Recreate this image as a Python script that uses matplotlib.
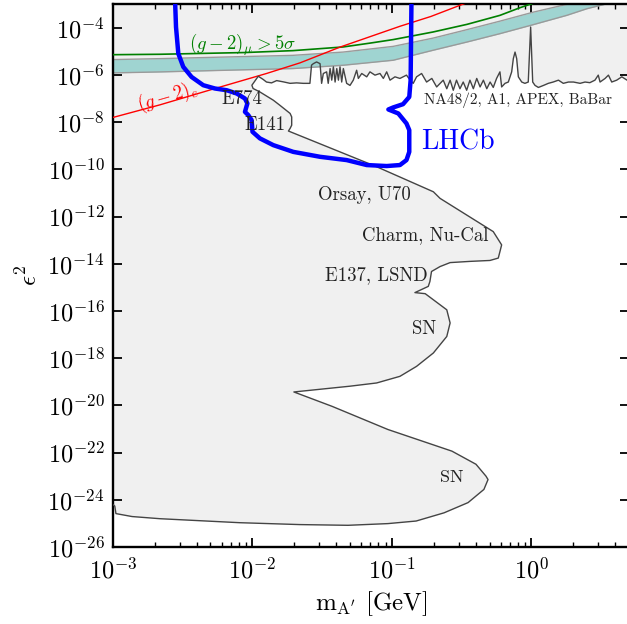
import numpy as np
import matplotlib
matplotlib.use('Agg')
import matplotlib.pyplot as plt
from matplotlib.ticker import NullLocator, LogLocator

plt.rcParams['font.family'] = 'cmr10'
plt.rcParams['mathtext.fontset'] = 'cm'
plt.rcParams['axes.formatter.use_mathtext'] = True

# beam dump / SN exclusion contour, bottom-left -> around -> top corner
dump_mass = [1.0e-3, 1.03e-3, 1.05e-3, 1.37e-3, 2.17e-3, 8.1e-3, 2.19e-2, 4.84e-2, 9.35e-2,
             0.149, 0.236, 0.351, 0.456, 0.488, 0.472, 0.40, 0.269, 9.35e-2, 3.72e-2, 1.98e-2,
             5.0e-2, 7.76e-2, 0.114, 0.150, 0.198, 0.247, 0.261, 0.247, 0.198, 0.173, 0.146,
             0.182, 0.187, 0.192, 0.221, 0.261, 0.362, 0.504, 0.578, 0.611, 0.532, 0.221, 0.198,
             7.76e-2, 1.81e-2, 1.86e-2, 1.91e-2, 1.91e-2, 1.86e-2, 1.57e-2, 1.41e-2, 1.13e-2,
             1.01e-2, 9.9e-3, 1.1e-2]
dump_eps2 = [6.3e-25, 5.4e-25, 2.6e-25, 1.95e-25, 1.58e-25, 1.07e-25, 8.9e-26, 8.3e-26, 9.8e-26,
             1.26e-25, 2.8e-25, 7.6e-25, 2.75e-24, 7.2e-24, 1.0e-23, 3.2e-23, 1.15e-22, 9.5e-22,
             9.1e-21, 3.7e-20, 6.5e-20, 8.9e-20, 1.7e-19, 4.5e-19, 1.66e-18, 8.3e-18, 3.1e-17,
             1.12e-16, 2.95e-16, 5.4e-16, 6.0e-16, 1.1e-15, 1.78e-15, 4.7e-15, 7.6e-15, 1.12e-14,
             1.26e-14, 1.38e-14, 1.74e-14, 6.3e-14, 2.3e-13, 5.9e-12, 1.12e-11, 1.29e-10, 4.2e-9,
             5.4e-9, 7.4e-9, 1.66e-8, 2.34e-8, 5.2e-8, 8.5e-8, 1.9e-7, 2.66e-7, 3.66e-7, 8.8e-7]

# NA48/2, A1, APEX, BaBar upper limit
na48_mass = [1.19e-2, 1.26e-2, 1.37e-2, 1.49e-2, 1.66e-2, 1.86e-2, 2.07e-2, 2.31e-2, 2.58e-2,
             2.65e-2, 2.73e-2, 2.88e-2, 3.05e-2, 3.13e-2, 3.22e-2, 3.4e-2, 3.49e-2, 3.6e-2, 3.7e-2,
             3.8e-2, 3.91e-2, 4.02e-2, 4.13e-2, 4.24e-2, 4.36e-2, 4.48e-2, 4.73e-2, 5.0e-2, 5.28e-2,
             5.58e-2, 5.74e-2, 6.07e-2, 6.59e-2, 6.95e-2, 7.55e-2, 8.2e-2, 8.67e-2, 9.16e-2,
             9.68e-2, 0.105, 0.114, 0.127, 0.135, 0.142, 0.150, 0.163, 0.177, 0.193, 0.209, 0.233,
             0.247, 0.261, 0.275, 0.29, 0.307, 0.324, 0.343, 0.362, 0.383, 0.405, 0.428, 0.452,
             0.478, 0.505, 0.532, 0.562, 0.594, 0.611, 0.646, 0.682, 0.721, 0.741, 0.762, 0.783,
             0.805, 0.851, 0.897, 0.948, 0.986, 1.02, 1.06, 1.12, 1.22, 1.32, 1.43, 1.56, 1.69,
             1.84, 2.0, 2.23, 2.42, 2.62, 2.85, 3.01, 3.10, 3.37, 3.56, 3.76, 4.08, 4.44, 4.84, 5.0]
na48_eps2 = [6.5e-7, 5.0e-7, 4.6e-7, 5.75e-7, 5.1e-7, 4.4e-7, 4.6e-7, 4.4e-7, 4.4e-7,
             2.6e-6, 3.0e-6, 3.55e-6, 3.0e-6, 4.4e-7, 1.15e-6, 1.35e-6, 4.4e-7, 1.86e-6, 6.0e-7,
             2.2e-6, 5.0e-7, 1.86e-6, 6.0e-7, 2.2e-6, 5.0e-7, 1.86e-6, 4.4e-7, 3.6e-7, 6.0e-7,
             1.58e-6, 7.1e-7, 1.15e-6, 8.3e-7, 1.35e-6, 9.8e-7, 1.15e-6, 7.1e-7, 1.35e-6,
             6.0e-7, 8.3e-7, 7.1e-7, 9.8e-7, 6.0e-7, 4.4e-7, 8.3e-7, 1.15e-6, 5.0e-7, 7.1e-7, 3.1e-7, 6.0e-7,
             2.6e-7, 6.0e-7, 2.24e-7, 6.0e-7, 2.6e-7, 5.0e-7, 2.24e-7, 6.0e-7, 2.6e-7, 7.1e-7, 3.1e-7, 6.0e-7,
             2.6e-7, 5.0e-7, 2.95e-7, 7.1e-7, 1.35e-6, 3.1e-7, 4.4e-7, 5.0e-7, 1.35e-6, 4.9e-6, 9.3e-6, 4.9e-6,
             8.3e-7, 5.0e-7, 4.4e-7, 5.0e-7, 1.07e-4, 5.0e-7, 3.6e-7, 2.95e-7, 3.6e-7, 4.4e-7, 5.0e-7, 6.0e-7, 4.4e-7,
             5.0e-7, 5.0e-7, 4.4e-7, 5.0e-7, 4.7e-7, 6.0e-7, 9.8e-7, 5.0e-7, 7.1e-7, 9.8e-7, 5.0e-7, 6.0e-7, 8.3e-7, 6.0e-7, 6.3e-7]

# LHCb projected reach
lhcb_mass = [2.78e-3, 2.83e-3, 2.94e-3, 3.19e-3, 3.66e-3, 4.44e-3, 5.38e-3, 6.53e-3, 7.71e-3,
             8.83e-3, 9.19e-3, 8.83e-3, 9.33e-3, 9.86e-3, 1.0e-2, 1.13e-2, 1.41e-2, 1.96e-2,
             3.05e-2, 4.73e-2, 6.59e-2, 9.16e-2, 0.114, 0.127, 0.133, 0.133, 0.127, 0.111,
             0.0942, 0.102, 0.120, 0.133, 0.136, 0.138]
lhcb_eps2 = [2e-3, 1.07e-4, 8.0e-6, 2.2e-6, 8.2e-7, 3.66e-7, 2.66e-7, 2.25e-7, 1.63e-7,
             1.0e-7, 6.2e-8, 2.73e-8, 1.98e-8, 1.22e-8, 3.9e-9, 2.05e-9, 1.06e-9, 5.5e-10,
             3.4e-10, 2.47e-10, 1.52e-10, 1.38e-10, 1.52e-10, 2.47e-10, 5.5e-10, 4.6e-9, 8.8e-9,
             2.33e-8, 3.44e-8, 4.19e-8, 5.77e-8, 1.17e-7, 5.97e-7, 2e-3]

# (g-2)_mu > 5 sigma
gm2mu_mass = [1e-3, 2.17e-3, 8.9e-3, 1.95e-2, 4.46e-2, 7.0e-2, 0.102, 0.197, 0.345, 0.594, 0.83, 1.17]
gm2mu_eps2 = [7.2e-6, 7.5e-6, 8.9e-6, 1.07e-5, 1.53e-5, 2.24e-5, 3.14e-5, 6.6e-5, 1.39e-4,
              3.34e-4, 7.1e-4, 1.41e-3]

# (g-2)_mu favoured band
band_mass = [1e-3, 2.17e-3, 1.95e-2, 4.46e-2, 0.102, 0.197, 0.345, 0.594, 1.03, 1.79, 2.5, 3.66]
band_lo = [1.22e-6, 1.34e-6, 1.86e-6, 2.57e-6, 4.19e-6, 1.11e-5, 2.48e-5, 5.6e-5, 1.35e-4,
           3.34e-4, 6.4e-4, 1.12e-3]
band_hi = [4.47e-6, 4.9e-6, 6.76e-6, 9.3e-6, 1.62e-5, 3.63e-5, 8.3e-5, 1.9e-4, 4.57e-4,
           9.8e-4, 1.66e-3, 3.0e-3]

# (g-2)_e
gm2e_mass = [1e-3, 2.17e-3, 5.2e-3, 1.26e-2, 2.19e-2, 4.24e-2, 0.114, 0.19, 0.323, 0.4]
gm2e_eps2 = [1.58e-8, 5.4e-8, 2.5e-7, 1.15e-6, 3.24e-6, 1.51e-5, 1.15e-4, 3.0e-4, 1.0e-3, 1.58e-3]

region_labels = ['E774', 'E141', 'NA48/2, A1, APEX, BaBar', 'Orsay, U70', 'Charm, Nu-Cal',
                 'E137, LSND', 'SN', 'SN']
region_x = [8.4e-3, 1.23e-2, 0.794, 6.36e-2, 0.174, 7.76e-2, 0.169, 0.267]
region_y = [9.3e-8, 7.4e-9, 8.5e-8, 8.1e-12, 1.7e-13, 3.4e-15, 1.74e-17, 9.3e-24]
region_size = [13.5, 13.5, 11, 13.5, 13.5, 13.5, 13.5, 13]

xmin, xmax = 1e-3, 5.0
ymin, ymax = 1e-26, 1e-3

fig = plt.figure(figsize=(6.27, 6.24), dpi=100)
ax = fig.add_axes([0.1802, 0.1234, 0.823, 0.870])
ax.set_xscale('log')
ax.set_yscale('log')

contour_x = dump_mass + na48_mass
contour_y = dump_eps2 + na48_eps2
ax.fill(contour_x + [xmax, xmin], contour_y + [ymax, ymax], color='#f0f0f0', lw=0, zorder=1)

ax.fill_between(band_mass, band_lo, band_hi, color='#9fd4d1', lw=0, zorder=2)
ax.plot(band_mass, band_lo, color='#9a9a9a', lw=1.0, zorder=2)
ax.plot(band_mass, band_hi, color='#9a9a9a', lw=1.0, zorder=2)
ax.plot(gm2mu_mass, gm2mu_eps2, color='green', lw=1.2, zorder=3)
ax.plot(gm2e_mass, gm2e_eps2, color='red', lw=1.0, zorder=3)
ax.plot(contour_x, contour_y, color='#444444', lw=1.0, zorder=4)
ax.plot(lhcb_mass, lhcb_eps2, color='blue', lw=3.2, solid_joinstyle='round', zorder=5)

for t, x, y, s in zip(region_labels, region_x, region_y, region_size):
    ax.text(x, y, t, fontsize=s, ha='center', va='center', color='#222222', zorder=6)
ax.text(0.295, 1.35e-9, 'LHCb', fontsize=20, color='blue', ha='center', va='center', zorder=6)
ax.text(8.5e-3, 1.8e-5, r'$(g-2)_\mu > 5\sigma$', fontsize=13.5, color='green',
        ha='center', va='center', zorder=6)
ax.text(2.48e-3, 1.15e-7, r'$(g-2)_e$', fontsize=13.5, color='red', rotation=16,
        rotation_mode='anchor', ha='center', va='center', zorder=6)

ax.set_xlim(xmin, xmax)
ax.set_ylim(ymin, ymax)
ax.set_yticks([1e-26, 1e-24, 1e-22, 1e-20, 1e-18, 1e-16, 1e-14, 1e-12, 1e-10, 1e-8, 1e-6, 1e-4])
ax.yaxis.set_minor_locator(NullLocator())
ax.xaxis.set_major_locator(LogLocator(base=10, numticks=10))
ax.xaxis.set_minor_locator(LogLocator(base=10, subs=np.arange(2, 10), numticks=20))
ax.tick_params(which='both', direction='in', top=True, right=True, labelsize=17.5)
ax.tick_params(which='major', length=6.5, width=1.3)
ax.tick_params(which='minor', length=3.6, width=1.0)
ax.tick_params(axis='x', pad=8)
ax.tick_params(axis='y', pad=6)
for s in ax.spines.values():
    s.set_linewidth(1.7)

ax.set_xlabel(r'$\mathrm{m}_{\mathrm{A}^{\prime}}$ [GeV]', fontsize=18, labelpad=4)
ax.set_ylabel(r'$\epsilon^2$', fontsize=18, labelpad=4)

fig.savefig('out.png', dpi=100)
